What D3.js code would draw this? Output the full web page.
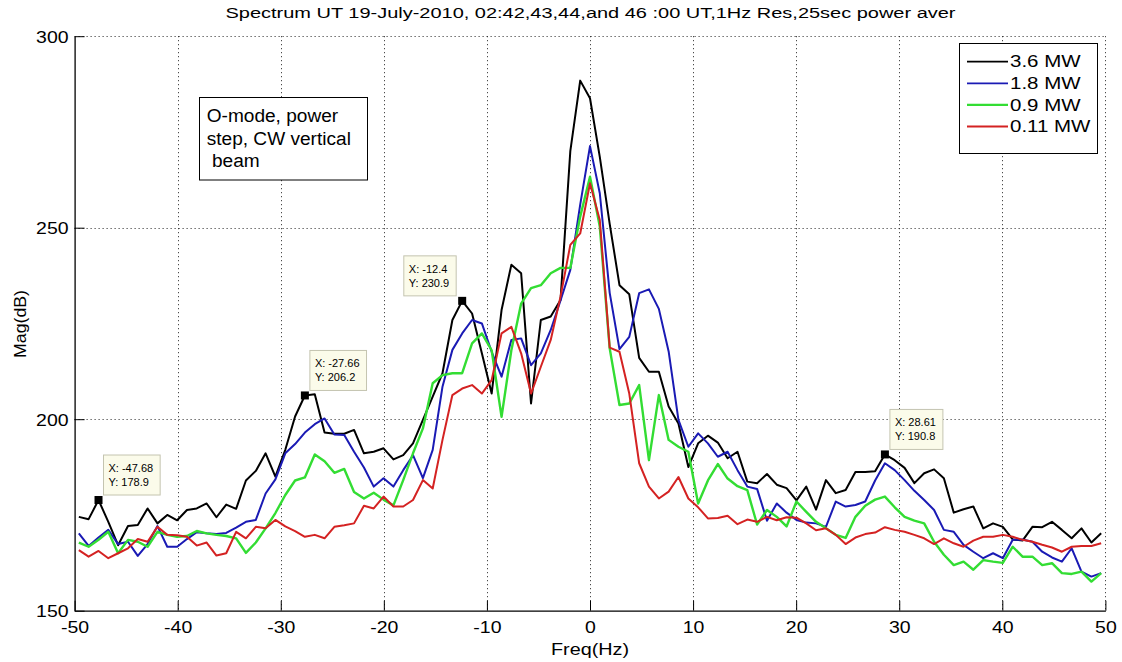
<!DOCTYPE html>
<html>
<head>
<meta charset="utf-8">
<script src="https://cdn.jsdelivr.net/npm/d3@7"></script>
<style>
  body { margin: 0; background: #fff; }
  svg { display: block; }
  text { font-family: "Liberation Sans", Arial, Helvetica, sans-serif; fill: #000; }
</style>
</head>
<body>
<svg id="chart" width="1122" height="662"></svg>
<script>
// Frequency bins (Hz), 0.9537 Hz spacing
const freq = [
  -49.59,-48.64,-47.68,-46.73,-45.78,-44.82,-43.87,-42.92,-41.96,-41.01,
  -40.05,-39.10,-38.15,-37.19,-36.24,-35.29,-34.33,-33.38,-32.42,-31.47,
  -30.52,-29.56,-28.61,-27.66,-26.70,-25.75,-24.80,-23.84,-22.89,-21.93,
  -20.98,-20.03,-19.07,-18.12,-17.17,-16.21,-15.26,-14.31,-13.35,-12.40,
  -11.44,-10.49,-9.54,-8.58,-7.63,-6.68,-5.72,-4.77,-3.81,-2.86,
  -1.91,-0.95,0,0.95,1.91,2.86,3.81,4.77,5.72,6.68,
  7.63,8.58,9.54,10.49,11.44,12.40,13.35,14.31,15.26,16.21,
  17.17,18.12,19.07,20.03,20.98,21.93,22.89,23.84,24.80,25.75,
  26.70,27.66,28.61,29.56,30.52,31.47,32.42,33.38,34.33,35.29,
  36.24,37.19,38.15,39.10,40.05,41.01,41.96,42.92,43.87,44.82,
  45.78,46.73,47.68,48.64,49.59
];

// Magnitude (dB) per heater power
const mag36 = [
  174.5,173.9,178.9,173.2,167.1,172.1,172.4,176.7,172.8,175.0,
  173.6,176.3,176.7,178.0,174.4,177.7,176.6,184.0,186.5,191.1,
  185.0,192.0,200.7,206.2,206.5,196.5,196.2,196.2,197.2,191.1,
  191.5,192.4,189.5,190.6,193.7,199.8,205.9,212.0,225.9,230.9,
  227.6,217.2,206.7,228.5,240.3,238.1,204.1,225.9,226.8,231.1,
  270.0,288.4,283.8,268.5,251.0,235.0,232.6,216.0,212.4,212.4,
  203.3,198.9,187.5,193.7,195.7,193.9,189.8,191.5,183.7,183.3,
  185.7,182.9,182.0,178.8,182.4,176.4,184.1,180.7,181.5,186.2,
  186.2,186.4,190.8,189.3,187.3,183.3,185.9,186.9,184.6,175.6,
  176.5,177.2,171.5,172.8,171.9,168.6,168.3,171.9,171.8,173.2,
  171.1,168.9,171.5,167.8,170.2
];
const mag18 = [
  170.2,166.9,169.1,171.1,167.4,168.0,164.3,167.4,172.1,166.7,
  166.7,168.7,170.5,170.2,170.0,170.3,171.7,173.2,173.7,180.6,
  184.3,191.1,193.5,196.5,198.7,200.2,196.0,195.9,191.5,187.4,
  182.4,184.6,182.4,186.7,190.6,184.6,192.0,208.5,218.1,222.4,
  225.9,225.0,217.6,211.1,220.7,221.1,214.1,217.2,223.3,231.0,
  239.0,256.0,271.3,259.0,233.0,218.3,221.5,232.9,233.9,228.8,
  217.7,199.8,192.8,196.3,193.7,190.2,191.5,186.7,182.4,181.8,
  173.5,178.0,175.6,173.7,173.0,172.8,171.9,178.5,177.2,177.6,
  178.5,184.0,188.5,186.7,184.1,181.3,178.9,176.3,171.1,170.6,
  167.2,165.4,163.7,165.0,163.7,168.5,168.6,168.0,165.4,163.9,
  162.8,166.3,160.2,158.9,159.8
];
const mag09 = [
  167.8,166.7,168.5,170.6,165.0,168.5,168.0,166.7,170.6,169.8,
  169.3,169.5,170.8,170.2,169.8,169.5,168.9,165.1,167.8,171.5,
  175.5,180.2,184.0,184.8,190.8,189.0,186.0,187.0,181.0,179.3,
  180.8,179.0,177.5,184.1,191.1,197.6,209.4,211.5,212.0,212.0,
  219.8,222.4,218.0,200.6,218.0,230.2,234.2,235.0,238.1,239.5,
  239.5,252.9,263.3,250.3,218.5,203.7,204.1,208.9,189.3,206.3,
  194.6,192.8,191.5,178.0,184.0,188.3,184.5,182.5,181.5,172.5,
  176.3,174.5,172.0,178.5,175.8,173.2,171.5,169.8,169.0,174.5,
  177.4,179.0,179.8,177.0,174.5,173.5,172.8,168.0,164.6,161.9,
  162.8,160.7,163.2,162.8,162.5,166.7,164.1,164.1,161.9,162.4,
  159.8,159.6,160.2,157.6,159.8
];
const mag011 = [
  165.8,164.1,165.6,163.7,165.0,166.3,168.7,168.0,171.9,169.8,
  169.7,169.3,167.0,167.8,164.4,165.0,170.6,168.9,171.9,171.5,
  173.7,172.0,170.8,169.3,169.8,168.9,171.9,172.3,172.8,177.4,
  176.7,179.8,177.2,177.2,178.9,184.1,181.9,194.6,206.3,208.0,
  208.9,206.7,210.2,222.4,224.1,217.2,206.7,213.7,220.7,232.0,
  245.5,248.5,261.6,252.0,218.7,217.6,206.7,188.5,182.4,179.3,
  181.1,184.9,179.3,177.0,174.1,174.2,174.8,172.6,173.8,173.2,
  174.5,173.6,174.4,174.3,172.8,171.0,171.5,169.8,167.4,169.1,
  170.0,170.4,171.8,171.1,170.6,169.8,168.9,167.4,168.9,167.6,
  166.7,168.3,169.3,169.3,169.8,169.3,168.5,168.0,167.2,166.5,
  165.4,166.7,166.9,166.9,167.6
];

const seriesNames = ["3.6 MW", "1.8 MW", "0.9 MW", "0.11 MW"];
const seriesColors = ["#000000", "#1a1ab4", "#33dd33", "#d42222"];

const xTicks = [-50, -40, -30, -20, -10, 0, 10, 20, 30, 40, 50];
const yTicks = [150, 200, 250, 300];

// Data cursor readouts on the 3.6 MW trace
const tipFreq = [-47.68, -27.66, -12.4, 28.61];
const tipMag = [178.9, 206.2, 230.9, 190.8];
const tipLeftSide = [false, false, true, false];

const titleText = "Spectrum UT 19-July-2010, 02:42,43,44,and 46 :00 UT,1Hz Res,25sec power aver";
const noteLines = ["O-mode, power", "step, CW vertical", " beam"];

const svg = d3.select("#chart");
const x = d3.scaleLinear().domain([-50, 50]).range([74.6, 1105.4]);
const y = d3.scaleLinear().domain([150, 300]).range([610.7, 36.2]);

// stretch text horizontally by factor k
function widen(sel, k) {
  sel.each(function () {
    const w = this.getComputedTextLength();
    d3.select(this).attr("textLength", w * k).attr("lengthAdjust", "spacingAndGlyphs");
  });
}

// dotted grid
const grid = svg.append("g").attr("stroke", "#222").attr("stroke-width", 1).attr("stroke-dasharray", "1,3");
grid.selectAll("line.vx").data(xTicks.filter(d => d !== -50)).join("line")
  .attr("x1", d => Math.round(x(d)) + 0.5).attr("x2", d => Math.round(x(d)) + 0.5)
  .attr("y1", y(300)).attr("y2", y(150));
grid.selectAll("line.hy").data(yTicks.filter(d => d !== 150)).join("line")
  .attr("x1", x(-50)).attr("x2", x(50))
  .attr("y1", d => Math.round(y(d)) + 0.5).attr("y2", d => Math.round(y(d)) + 0.5);

// traces
svg.append("defs").append("clipPath").attr("id", "plotclip")
  .append("rect").attr("x", x(-50)).attr("y", y(300)).attr("width", x(50) - x(-50)).attr("height", y(150) - y(300));

const line = d3.line().x((d, i) => x(freq[i])).y(d => y(d));
const allSeries = [mag36, mag18, mag09, mag011];
svg.append("g").attr("clip-path", "url(#plotclip)")
  .selectAll("path").data(allSeries).join("path")
  .attr("d", d => line(d))
  .attr("fill", "none")
  .attr("stroke", (d, i) => seriesColors[i])
  .attr("stroke-width", (d, i) => i === 2 ? 2.4 : 2)
  .attr("stroke-linejoin", "round");

// axes
const xAxis = svg.append("g").attr("transform", `translate(0,${y(150)})`)
  .call(d3.axisBottom(x).tickValues(xTicks).tickSize(-10).tickSizeOuter(0).tickFormat(d => String(d)));
const yAxis = svg.append("g").attr("transform", `translate(${x(-50)},0)`)
  .call(d3.axisLeft(y).tickValues(yTicks).tickSize(-10).tickSizeOuter(0).tickFormat(d => String(d)));
[xAxis, yAxis].forEach(g => {
  g.select(".domain").attr("stroke", "#000").attr("stroke-width", 1.3);
  g.selectAll(".tick line").attr("stroke", "#000").attr("stroke-width", 1);
  g.selectAll("text").attr("font-size", 16.5).attr("fill", "#000").attr("font-family", null);
});
xAxis.selectAll(".tick text").attr("y", 22).attr("dy", null);
yAxis.selectAll(".tick text").attr("x", -6).attr("y", 6).attr("dy", null);
widen(xAxis.selectAll(".tick text"), 1.18);
widen(yAxis.selectAll(".tick text"), 1.18);

// title and axis labels
svg.append("text").attr("x", 590.5).attr("y", 18).attr("text-anchor", "middle")
  .attr("font-size", 15.5).attr("textLength", 730).attr("lengthAdjust", "spacingAndGlyphs")
  .text(titleText);
svg.append("text").attr("x", 590).attr("y", 655).attr("text-anchor", "middle")
  .attr("font-size", 16).attr("textLength", 78).attr("lengthAdjust", "spacingAndGlyphs")
  .text("Freq(Hz)");
svg.append("text").attr("transform", "translate(26,324) rotate(-90)").attr("text-anchor", "middle")
  .attr("font-size", 16).attr("textLength", 68).attr("lengthAdjust", "spacingAndGlyphs")
  .text("Mag(dB)");

// legend
const leg = svg.append("g");
leg.append("rect").attr("x", 959.5).attr("y", 43.5).attr("width", 138).attr("height", 110)
  .attr("fill", "#fff").attr("stroke", "#000").attr("stroke-width", 1);
const rowY = [61.7, 83.3, 104.8, 126.5];
const legRows = leg.selectAll("g.row").data(seriesNames).join("g");
legRows.append("line").attr("x1", 967).attr("x2", 1008)
  .attr("y1", (d, i) => rowY[i]).attr("y2", (d, i) => rowY[i])
  .attr("stroke", (d, i) => seriesColors[i]).attr("stroke-width", (d, i) => i === 2 ? 2.2 : 1.8);
const legText = legRows.append("text").attr("x", 1010).attr("y", (d, i) => rowY[i] + 5.7)
  .attr("font-size", 16).text(d => d);
widen(legText, 1.28);

// annotation box
const note = svg.append("g");
note.append("rect").attr("x", 199.5).attr("y", 97.5).attr("width", 168).attr("height", 82.5)
  .attr("fill", "#fff").attr("stroke", "#000").attr("stroke-width", 1);
const noteText = note.selectAll("text").data(noteLines).join("text")
  .attr("x", 206.7).attr("y", (d, i) => [121.7, 145, 167][i])
  .attr("font-size", 18).style("white-space", "pre").text(d => d);
widen(noteText, 1.06);

// data cursor readouts
const tips = svg.append("g");
tipFreq.forEach((f, i) => {
  const mx = x(f), my = y(tipMag[i]);
  const g = tips.append("g");
  const t1 = g.append("text").attr("font-size", 11).text(`X: ${f}`);
  const t2 = g.append("text").attr("font-size", 11).text(`Y: ${tipMag[i]}`);
  const tw = Math.max(t1.node().getComputedTextLength(), t2.node().getComputedTextLength());
  const bw = tw + 12, bh = 40;
  const bx = tipLeftSide[i] ? mx - 6 - bw : mx + 5;
  const by = my - 5 - bh;
  g.insert("rect", "text").attr("x", bx).attr("y", by).attr("width", bw).attr("height", bh)
    .attr("fill", "#fbfbea").attr("stroke", "#c4c4b0").attr("stroke-width", 1);
  t1.attr("x", bx + 5).attr("y", by + 16.7).attr("fill", "#222");
  t2.attr("x", bx + 5).attr("y", by + 31).attr("fill", "#222");
  g.append("rect").attr("x", mx - 4).attr("y", my - 4).attr("width", 8).attr("height", 8).attr("fill", "#000");
});
</script>
</body>
</html>
